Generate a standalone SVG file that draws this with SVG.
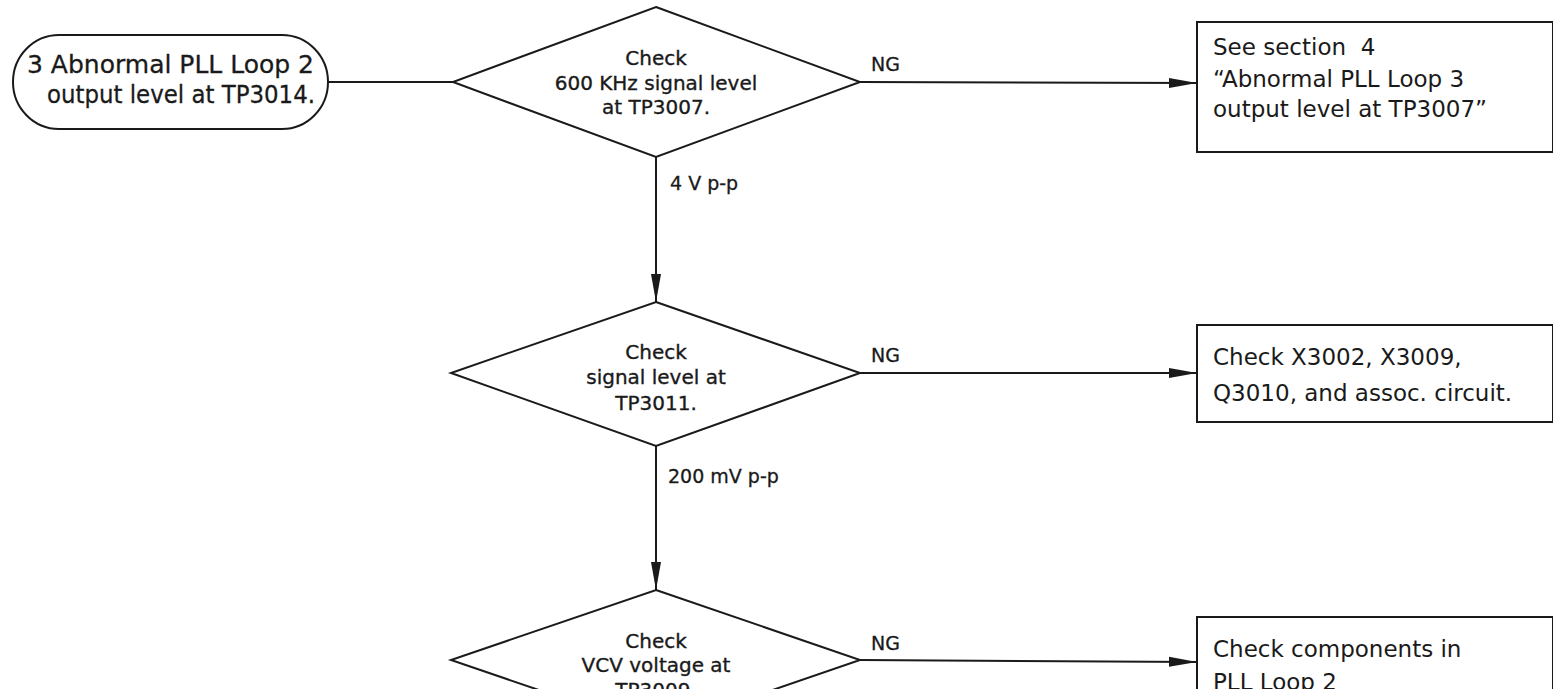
<svg xmlns="http://www.w3.org/2000/svg" width="1553" height="689" viewBox="0 0 1553 689">
<style>
.shape{fill:#fff;stroke:#1a1a1a;stroke-width:2}
.line{fill:none;stroke:#1a1a1a;stroke-width:2}
.t{font-family:"DejaVu Sans","Liberation Sans",sans-serif;fill:#1a1a1a}
.dt{font-size:20px;text-anchor:middle;stroke:#1a1a1a;stroke-width:0.35}
.bt{font-size:23px}
.tt{font-size:25px;stroke:#1a1a1a;stroke-width:0.3}
.lbl{font-size:19px;stroke:#1a1a1a;stroke-width:0.3}
</style>
<defs>
<marker id="arr" markerWidth="28" markerHeight="12" refX="28" refY="6" orient="auto" markerUnits="userSpaceOnUse">
<path d="M0,1 L28,6 L0,11 Z" fill="#1a1a1a"/>
</marker>
</defs>
<rect width="1553" height="689" fill="#fff"/>
<g id="connectors">
<line class="line" x1="328" y1="82" x2="453" y2="82"/>
<line class="line" x1="860" y1="82" x2="1197" y2="83" marker-end="url(#arr)"/>
<line class="line" x1="656" y1="157" x2="656" y2="302" marker-end="url(#arr)"/>
<line class="line" x1="860" y1="373" x2="1197" y2="373" marker-end="url(#arr)"/>
<line class="line" x1="656" y1="446" x2="656" y2="590" marker-end="url(#arr)"/>
<line class="line" x1="860" y1="660" x2="1197" y2="662" marker-end="url(#arr)"/>
<text class="t lbl" x="871" y="71">NG</text>
<text class="t lbl" x="670" y="190">4 V p-p</text>
<text class="t lbl" x="871" y="362">NG</text>
<text class="t lbl" x="668" y="483">200 mV p-p</text>
<text class="t lbl" x="871" y="650">NG</text>
</g>
<g id="start">
<rect class="shape" x="13" y="35" width="315" height="94" rx="46" ry="47"/>
<text class="t tt" x="27" y="73" textLength="287" lengthAdjust="spacingAndGlyphs">3 Abnormal PLL Loop 2</text>
<text class="t tt" x="47" y="103" textLength="268" lengthAdjust="spacingAndGlyphs">output level at TP3014.</text>
</g>
<g id="d1">
<polygon class="shape" points="656,7 860,82 656,157 453,82"/>
<text class="t dt" x="656" y="65">Check</text>
<text class="t dt" x="656" y="90">600 KHz signal level</text>
<text class="t dt" x="656" y="114">at TP3007.</text>
</g>
<g id="box1">
<rect class="shape" x="1197" y="22" width="356" height="130"/>
<text class="t bt" x="1213" y="55">See section&#160;&#160;4</text>
<text class="t bt" x="1213" y="87">“Abnormal PLL Loop 3</text>
<text class="t bt" x="1213" y="117">output level at TP3007”</text>
</g>
<g id="d2">
<polygon class="shape" points="656,302 860,373 656,446 451,373"/>
<text class="t dt" x="656" y="359">Check</text>
<text class="t dt" x="656" y="384">signal level at</text>
<text class="t dt" x="656" y="410">TP3011.</text>
</g>
<g id="box2">
<rect class="shape" x="1197" y="325" width="356" height="97"/>
<text class="t bt" x="1213" y="365">Check X3002, X3009,</text>
<text class="t bt" x="1213" y="401">Q3010, and assoc. circuit.</text>
</g>
<g id="d3">
<polygon class="shape" points="656,590 860,660 656,730 451,660"/>
<text class="t dt" x="656" y="648">Check</text>
<text class="t dt" x="656" y="672">VCV voltage at</text>
<text class="t dt" x="656" y="697">TP3009.</text>
</g>
<g id="box3">
<rect class="shape" x="1197" y="617" width="356" height="100"/>
<text class="t bt" x="1213" y="657">Check components in</text>
<text class="t bt" x="1213" y="690">PLL Loop 2</text>
</g>
</svg>
